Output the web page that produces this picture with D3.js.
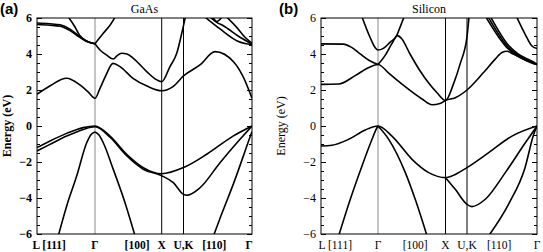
<!DOCTYPE html>
<html lang="en">
<head>
    <meta charset="UTF-8">
    <title>Band structures of GaAs and Silicon</title>
    <script src="https://d3js.org/d3.v7.min.js"></script>
    <style>
        body { margin: 0; background: #fff; }
        .band { fill: none; stroke: #000; stroke-width: 1.6; }
        .frame { fill: none; stroke: #000; stroke-width: 1; }
        .tick line { stroke: #000; }
        .axis path { display: none; }
        text { font-family: "Liberation Serif", "Times New Roman", serif; }
    </style>
</head>
<body>
    <svg width="543" height="252"></svg>

    <script>
        // k-path: L = 0, Gamma = 1, X = 2, U,K = 3, Gamma = 4
        const kLabels = ["L [111]", "\u0393", "[100]", "X", "U,K", "[110]", "\u0393"];
        const kLabelPosA = [0.21, 1, 1.63, 2, 3, 3.45, 3.96];
        const kLabelPosB = [0.25, 1, 1.55, 2, 3, 3.46, 4];
        const energyTicks = [-6, -4, -2, 0, 2, 4, 6];

        // GaAs bands, [k, E(eV)]
        const gaasC1 = [[0,1.76],[0.22,2.22],[0.51,2.65],[0.74,2.28],[0.88,1.9],[1,1.54],[1.075,2.09],[1.165,2.83],[1.27,3.48],[1.375,3.3],[1.57,2.65],[1.78,2.22],[2,1.96],[2.52,2.19],[3,2.78],[3.24,3.39],[3.46,4.13],[3.73,3.57],[3.87,2.74],[4,1.54]];
        const gaasC2a = [[0,5.72],[0.22,5.68],[0.4,5.62],[0.57,5.38],[0.74,4.97],[0.88,4.68],[1,4.57]];
        const gaasC2b = [[0,5.64],[0.22,5.6],[0.4,5.54],[0.57,5.3],[0.74,4.92],[0.88,4.66],[1,4.57]];
        const gaasC3 = [[0.53,6.1],[0.655,5.5],[0.73,5.06],[0.87,4.7],[1,4.57]];
        const gaasC4 = [[1,4.57],[1.124,5.15],[1.225,5.6],[1.31,6.1]];
        const gaasC5 = [[1,4.57],[1.075,4.22],[1.175,3.94],[1.274,3.72],[1.33,3.9],[1.4,4.04],[1.48,4.0],[1.575,3.76],[1.775,3.02],[1.9,2.62],[2,2.46],[2.38,3.3],[2.69,4.04],[2.92,5.15],[3.03,6.1]];
        const gaasC6 = [[3.314,6.05],[3.533,5.39],[3.777,4.74],[3.898,4.58],[4,4.52]];
        const gaasC7 = [[3.387,6.05],[3.485,5.76],[3.581,5.57],[3.825,4.93],[4,4.56]];
        const gaasC8 = [[3.43,6.05],[3.485,5.8],[3.56,6.05]];
        const gaasC9 = [[3.631,6.05],[3.777,5.48],[3.898,4.93],[4,4.6]];
        const gaasV1 = [[0,-1.2],[0.224,-0.83],[0.512,-0.41],[0.798,-0.09],[1,0],[1.225,-0.56],[1.475,-1.57],[1.724,-2.31],[2,-2.65],[3,-2.31],[3.339,-1.57],[3.723,-0.56],[4,0]];
        const gaasV2 = [[0,-1.39],[0.224,-1.02],[0.512,-0.56],[0.798,-0.19],[1,-0.04],[1.225,-0.62],[1.475,-1.65],[1.724,-2.4],[2,-2.76],[2.533,-3.15],[3,-3.8],[3.047,-3.85],[3.241,-3.43],[3.533,-2.04],[3.825,-0.74],[4,0]];
        const gaasV3 = [[0.367,-6.1],[0.512,-4.44],[0.684,-2.78],[0.857,-0.93],[0.93,-0.48],[1,-0.33]];
        const gaasV4 = [[1,-0.33],[1.06,-0.5],[1.124,-0.93],[1.274,-2.41],[1.45,-4.26],[1.6,-6.1]];
        const gaasV5 = [[3.438,-6.1],[3.561,-4.85],[3.73,-3.2],[3.949,-0.85],[4,-0.3]];

        // Silicon bands, [k, E(eV)]
        const siC1 = [[0,2.31],[0.31,2.33],[0.6,2.8],[0.84,3.25],[1,3.42],[1.163,2.92],[1.37,2.28],[1.652,1.5],[1.8,1.18],[1.919,1.25],[2,1.42],[2.456,1.57],[3,2.0],[3.243,3.0],[3.4,3.7],[3.5,4.08],[3.571,4.15],[3.661,4.0],[3.853,3.63],[4,3.42]];
        const siC2 = [[0,4.56],[0.39,4.55],[0.53,4.38],[0.68,4.02],[0.84,3.65],[1,3.42]];
        const siC3 = [[1,3.42],[1.104,3.91],[1.203,4.56],[1.286,5.02],[1.351,4.85],[1.474,4.0],[1.622,3.07],[1.748,2.4],[1.874,1.85],[2,1.42],[2.381,2.37],[2.688,3.48],[3,4.96],[3.03,6.1]];
        const siC4 = [[0.72,6.05],[0.86,4.93],[0.947,4.37],[1,4.22],[1.079,4.31],[1.178,4.65],[1.277,5.02],[1.326,5.48],[1.385,6.05]];
        const siC5 = [[3.271,6.05],[3.567,4.37],[3.71,3.91],[3.853,3.63],[3.971,3.44],[4,3.42]];
        const siC6 = [[3.304,6.05],[3.58,4.42],[3.72,3.96],[3.86,3.67],[3.975,3.46],[4,3.42]];
        const siC7 = [[3.339,6.05],[3.595,4.47],[3.73,4.01],[3.87,3.71],[3.98,3.48],[4,3.42]];
        const siC8 = [[3.71,6.05],[3.829,5.11],[3.924,4.46],[4,4.3]];
        const siV1 = [[0,-1.11],[0.193,-1.07],[0.486,-0.74],[0.777,-0.22],[1,0],[1.207,-0.56],[1.504,-1.85],[1.751,-2.59],[2,-2.87],[2.456,-2.69],[3,-2.31],[3.31,-1.48],[3.643,-0.56],[4,0]];
        const siV2 = [[2,-2.87],[2.456,-3.52],[3,-4.35],[3.071,-4.48],[3.261,-4.07],[3.547,-2.59],[3.833,-0.93],[4,0]];
        const siV3 = [[0.31,-6.1],[0.514,-4.07],[0.719,-2.22],[0.895,-0.74],[0.965,-0.2],[1,0]];
        const siV4 = [[1,0],[1.159,-0.74],[1.405,-2.59],[1.563,-4.2],[1.726,-6.1]];
        const siV5 = [[3.31,-6.1],[3.6,-4.3],[3.83,-2.3],[3.95,-0.5],[4,0]];

        const svg = d3.select("svg");
        const plotTop = 18, plotBottom = 234;

        function drawPanel(p) {
            const x = d3.scaleLinear().domain([0, 1, 2, 3, 4]).range(p.nodes);
            const y = d3.scaleLinear().domain([-6, 6]).range([plotBottom, plotTop]);
            const left = p.nodes[0], right = p.nodes[4];
            const g = svg.append("g");

            g.append("clipPath").attr("id", "clip-" + p.id)
                .append("rect")
                .attr("x", left).attr("y", plotTop)
                .attr("width", right - left).attr("height", plotBottom - plotTop);

            // symmetry point lines
            g.append("line")
                .attr("x1", x(1)).attr("x2", x(1)).attr("y1", plotTop).attr("y2", plotBottom)
                .attr("stroke", "#8a8a8a").attr("stroke-width", 1);
            [2, 3].forEach(k => {
                g.append("line")
                    .attr("x1", x(k)).attr("x2", x(k)).attr("y1", plotTop).attr("y2", plotBottom)
                    .attr("stroke", "#000").attr("stroke-width", 1);
            });

            // bands
            const line = d3.line()
                .x(d => x(d[0]))
                .y(d => y(d[1]))
                .curve(d3.curveMonotoneX);
            g.append("g").attr("clip-path", `url(#clip-${p.id})`)
                .selectAll("path")
                .data(p.bands)
                .enter().append("path")
                .attr("class", "band")
                .attr("d", line);

            // y axis, ticks inside on both sides
            const minor = d3.range(-6, 6.01, 0.5);
            g.append("g").attr("class", "axis")
                .attr("transform", `translate(${left},0)`)
                .call(d3.axisLeft(y).tickValues(minor).tickSize(-3).tickFormat(""));
            g.append("g").attr("class", "axis")
                .attr("transform", `translate(${right},0)`)
                .call(d3.axisRight(y).tickValues(minor).tickSize(-3).tickFormat(""));
            g.append("g").attr("class", "axis")
                .attr("transform", `translate(${right},0)`)
                .call(d3.axisRight(y).tickValues(energyTicks).tickSize(-5).tickFormat(""));
            const yAxis = g.append("g").attr("class", "axis")
                .attr("transform", `translate(${left},0)`)
                .call(d3.axisLeft(y).tickValues(energyTicks).tickSizeInner(-5).tickSizeOuter(0).tickPadding(5));
            yAxis.selectAll("text")
                .style("font-family", "Liberation Serif")
                .style("font-size", "12px")
                .style("font-weight", p.weight)
                .attr("fill", "#000");

            g.append("rect").attr("class", "frame")
                .attr("x", left).attr("y", plotTop)
                .attr("width", right - left).attr("height", plotBottom - plotTop);

            // k-point labels
            g.selectAll(".klabel")
                .data(kLabels)
                .enter().append("text")
                .attr("class", "klabel")
                .attr("x", (d, i) => x(p.labelPos[i]))
                .attr("y", 248.5)
                .attr("text-anchor", "middle")
                .style("font-size", "11.5px")
                .style("font-weight", p.weight)
                .text(d => d);

            // y label
            g.append("text")
                .attr("transform", `translate(${p.ylabelX},${(plotTop + plotBottom) / 2}) rotate(-90)`)
                .attr("text-anchor", "middle")
                .style("font-size", "12px")
                .style("font-weight", p.weight)
                .text("Energy (eV)");

            // title
            g.append("text")
                .attr("x", (left + right) / 2).attr("y", 13)
                .attr("text-anchor", "middle")
                .style("font-size", "12px")
                .text(p.title);

            // panel letter
            g.append("text")
                .attr("x", p.letterX).attr("y", 14)
                .style("font-family", "Liberation Sans, Arial, sans-serif")
                .style("font-size", "15px")
                .style("font-weight", "bold")
                .text(p.letter);
        }

        drawPanel({
            id: "a", title: "GaAs", letter: "(a)", letterX: 0, ylabelX: 11, weight: "bold",
            nodes: [37, 95, 161.7, 183.5, 252], labelPos: kLabelPosA,
            bands: [gaasC1, gaasC2a, gaasC2b, gaasC3, gaasC4, gaasC5, gaasC6, gaasC7, gaasC8, gaasC9,
                    gaasV1, gaasV2, gaasV3, gaasV4, gaasV5]
        });
        drawPanel({
            id: "b", title: "Silicon", letter: "(b)", letterX: 279, ylabelX: 285, weight: "normal",
            nodes: [321, 378, 445.5, 467, 537], labelPos: kLabelPosB,
            bands: [siC1, siC2, siC3, siC4, siC5, siC6, siC7, siC8, siV1, siV2, siV3, siV4, siV5]
        });
    </script>
</body>
</html>
